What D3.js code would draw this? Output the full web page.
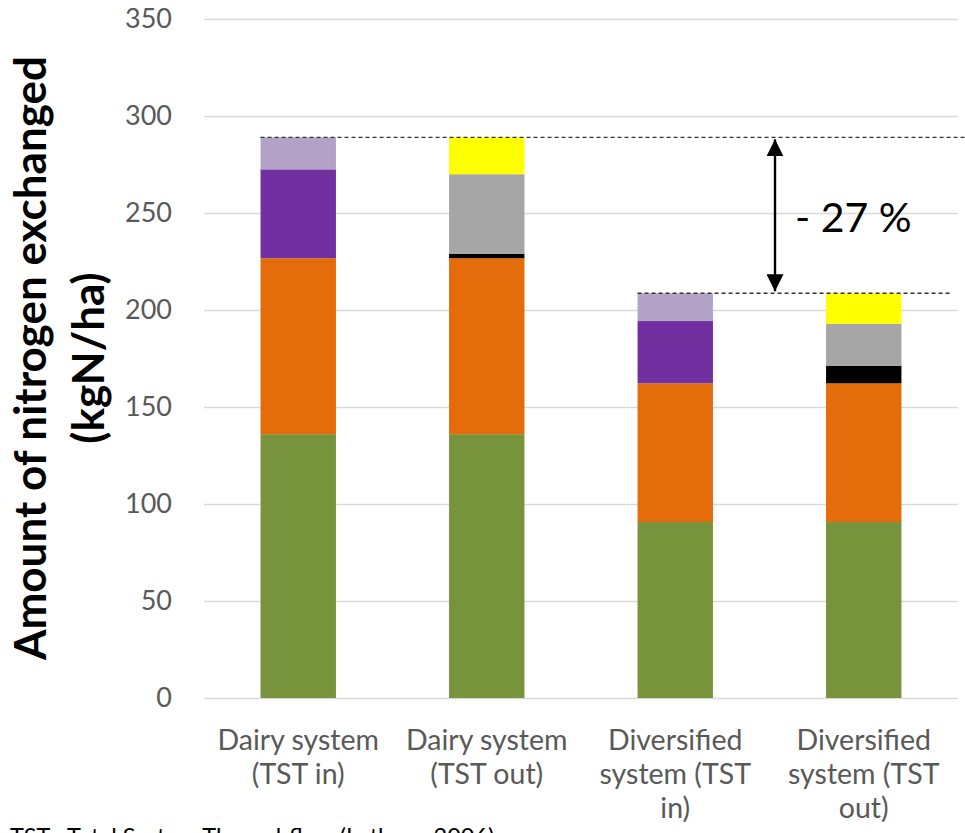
<!DOCTYPE html>
<html>
<head>
<meta charset="utf-8">
<script src="https://cdn.jsdelivr.net/npm/d3@7"></script>
<style>
  html, body { margin: 0; padding: 0; background: #fff; }
  svg { display: block; font-family: Lato, "Open Sans", sans-serif; }
</style>
</head>
<body>
<svg id="chart" width="965" height="833"></svg>
<script>
// Categories (each label split into its printed lines)
const categories = ["Dairy system (TST in)", "Dairy system (TST out)", "Diversified system (TST in)", "Diversified system (TST out)"];
const categoryLines = [
  ["Dairy system", "(TST in)"],
  ["Dairy system", "(TST out)"],
  ["Diversified", "system (TST", "in)"],
  ["Diversified", "system (TST", "out)"]
];

// Stacked segment values, kgN/ha, bottom to top
const greenVals       = [136.0, 136.0, 90.7, 90.7];
const orangeVals      = [90.7, 90.7, 71.5, 71.5];
const purpleVals      = [45.8, 0, 32.1, 0];
const blackVals       = [0, 2.3, 0, 9.1];
const grayVals        = [0, 41.0, 0, 21.6];
const lightPurpleVals = [16.5, 0, 14.3, 0];
const yellowVals      = [0, 19.0, 0, 15.7];

const yTicks = [0, 50, 100, 150, 200, 250, 300, 350];
const changeLabel = "- 27 %";
const footnote = "TST : Total System Throughflow (Latham, 2006)";

const series = [
  { key: "green", values: greenVals, color: "#77933C" },
  { key: "orange", values: orangeVals, color: "#E46C0A" },
  { key: "purple", values: purpleVals, color: "#7030A0" },
  { key: "black", values: blackVals, color: "#000000" },
  { key: "gray", values: grayVals, color: "#A6A6A6" },
  { key: "lightPurple", values: lightPurpleVals, color: "#B3A2C7" },
  { key: "yellow", values: yellowVals, color: "#FFFF00" }
];

const rows = categories.map((c, i) => {
  const r = { category: c };
  series.forEach(s => { r[s.key] = s.values[i]; });
  return r;
});
const stacked = d3.stack().keys(series.map(s => s.key))(rows);
const totals = rows.map(r => d3.sum(series, s => r[s.key]));

const svg = d3.select("#chart");
const plot = { left: 204, right: 958, top: 19, bottom: 698 };

const x = d3.scaleBand().domain(categories).range([plot.left, plot.right])
  .paddingInner(0.6).paddingOuter(0.3);
const y = d3.scaleLinear().domain([0, 350]).range([plot.bottom, plot.top]);

// Gridlines and tick labels
const yAxis = d3.axisLeft(y).tickValues(yTicks).tickSize(-(plot.right - plot.left)).tickPadding(32);
const ya = svg.append("g").attr("transform", `translate(${plot.left},0)`).call(yAxis);
ya.select(".domain").remove();
ya.selectAll(".tick line").attr("stroke", "#D9D9D9").attr("stroke-width", 1.5);
ya.selectAll(".tick text").attr("fill", "#595959").style("font-size", "27px")
  .style("font-family", "Lato, sans-serif");

// Stacked bars
svg.append("g").selectAll("g").data(stacked).join("g")
  .attr("fill", (d, i) => series[i].color)
  .selectAll("rect").data(d => d).join("rect")
  .attr("x", d => x(d.data.category))
  .attr("width", x.bandwidth())
  .attr("y", d => y(d[1]))
  .attr("height", d => Math.max(0, y(d[0]) - y(d[1])));

// Category labels
const lab = svg.append("g");
categories.forEach((c, i) => {
  const t = lab.append("text")
    .attr("x", x(c) + x.bandwidth() / 2)
    .attr("y", 750)
    .attr("text-anchor", "middle")
    .attr("fill", "#595959")
    .style("font-size", "28.5px");
  categoryLines[i].forEach((ln, j) => {
    t.append("tspan").attr("x", x(c) + x.bandwidth() / 2).attr("dy", j === 0 ? 0 : 34).text(ln);
  });
});

// Y axis title
const title = svg.append("text")
  .attr("transform", `translate(0,${358}) rotate(-90)`)
  .attr("text-anchor", "middle")
  .attr("font-weight", "bold")
  .attr("fill", "#000")
  .style("font-size", "44px");
title.append("tspan").attr("x", 0).attr("y", 46).text("Amount of nitrogen exchanged");
title.append("tspan").attr("x", 0).attr("y", 104).text("(kgN/ha)");

// Reference lines at the two totals
const hi = totals[0], lo = totals[2];
svg.append("line")
  .attr("x1", x(categories[0])).attr("x2", 965)
  .attr("y1", y(hi)).attr("y2", y(hi))
  .attr("stroke", "#333").attr("stroke-width", 1.4).attr("stroke-dasharray", "4,3");
svg.append("line")
  .attr("x1", x(categories[2])).attr("x2", 952)
  .attr("y1", y(lo)).attr("y2", y(lo))
  .attr("stroke", "#333").attr("stroke-width", 1.4).attr("stroke-dasharray", "4,3");

// Double-headed arrow with the change label
const defs = svg.append("defs");
defs.append("marker").attr("id", "head").attr("viewBox", "0 0 10 10")
  .attr("refX", 10).attr("refY", 5).attr("markerWidth", 17).attr("markerHeight", 17)
  .attr("markerUnits", "userSpaceOnUse").attr("orient", "auto-start-reverse")
  .append("path").attr("d", "M0,0 L10,5 L0,10 Z").attr("fill", "#000");
const ax = 775;
svg.append("line")
  .attr("x1", ax).attr("x2", ax)
  .attr("y1", y(hi) + 2).attr("y2", y(lo) - 2)
  .attr("stroke", "#000").attr("stroke-width", 2.4)
  .attr("marker-start", "url(#head)").attr("marker-end", "url(#head)");
svg.append("text")
  .attr("x", 795).attr("y", 232)
  .attr("fill", "#000")
  .style("font-size", "41px")
  .text(changeLabel);

// Footnote
svg.append("text")
  .attr("x", 10).attr("y", 845)
  .attr("fill", "#000")
  .style("font-size", "23.5px")
  .text(footnote);
</script>
</body>
</html>
